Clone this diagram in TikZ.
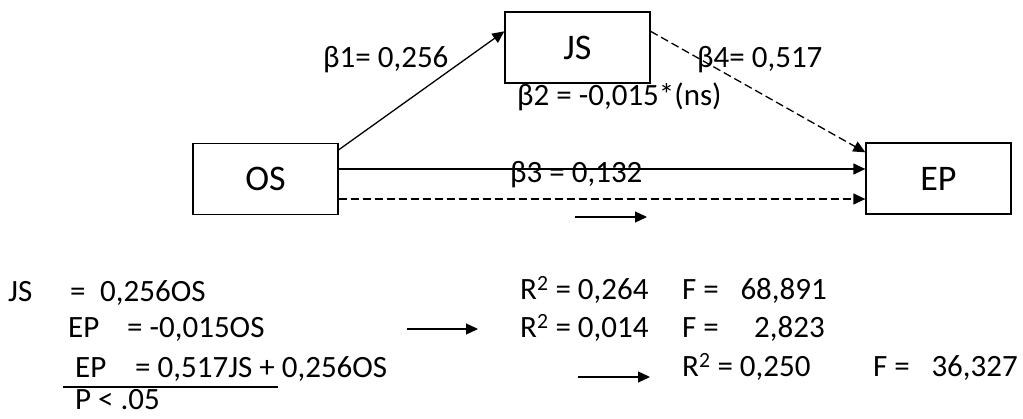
\documentclass[tikz,border=0pt]{standalone}
\usepackage{fontspec}
\setmainfont{Carlito}
\usetikzlibrary{arrows.meta,calc}
\begin{document}
\begin{tikzpicture}[x=1pt,y=-1pt,
  every node/.style={font=\fontsize{31}{37}\selectfont},
  varbox/.style={draw,line width=1.3pt,minimum width=145pt,minimum height=71pt,inner sep=0pt,
    font=\fontsize{36}{43}\selectfont},
  link/.style={line width=1.3pt,-{Triangle[length=12pt,width=11pt]}},
  dashlink/.style={link,dash pattern=on 8pt off 4pt},
  txt/.style={anchor=base west,inner sep=0pt}]
\useasboundingbox (0,0) rectangle (1023,419);
% variables
\node[varbox] (js) at (577.5,47.5) {JS};
\node[varbox] (os) at (265.5,179) {OS};
\node[varbox] (ep) at (938.5,178.5) {EP};
% paths
\draw[link] ($(os.north east)+(0,7)$) -- ($(js.north west)+(0,20)$);
\draw[dashlink] ($(js.north east)+(0,20)$) -- ($(ep.north west)+(0,10)$);
\draw[link] ($(os.east)+(0,-10)$) -- ($(ep.west)+(0,-9.5)$);
\draw[dashlink] ($(os.east)+(0,20)$) -- ($(ep.west)+(0,20.5)$);
\coordinate (s1) at (575,217);
\coordinate (s2) at (647,217);
\draw[link] (s1) -- (s2);
% coefficients
\node[txt] (b1) at (323,68) {β1= 0,256};
\node[txt] (b4) at (697,68) {β4= 0,517};
\node[txt] (b2) at (517,106) {β2 = -0,015*(ns)};
\node[txt] (b3) at (510,183) {β3 = 0,132};
% equations
\node[txt] (e1a) at (8,302) {JS};
\node[txt] (e1b) at (70,302) {=};
\node[txt] (e1c) at (100,302) {0,256OS};
\node[txt] (e2a) at (68,338) {EP};
\node[txt] (e2b) at (127,338) {= -0,015OS};
\node[txt] (e3a) at (75,378) {EP};
\node[txt] (e3b) at (135,378) {= 0,517JS + 0,256OS};
\node[txt] (e4) at (75,410) {P < .05};
\coordinate (u1) at (63,387);
\coordinate (u2) at (278,387);
\draw[line width=1.3pt] (u1) -- (u2);
\coordinate (a1) at (407,329);
\coordinate (a2) at (478,329);
\draw[link] (a1) -- (a2);
\coordinate (c1) at (578,377);
\coordinate (c2) at (650,377);
\draw[link] (c1) -- (c2);
% fit statistics
\node[txt] (r1) at (520,300) {R\textsuperscript{2} = 0,264};
\node[txt] (f1) at (682,300) {F =};
\node[txt,anchor=base east] (v1) at (827,300) {68,891};
\node[txt] (r2) at (520,338) {R\textsuperscript{2} = 0,014};
\node[txt] (f2) at (682,338) {F =};
\node[txt,anchor=base east] (v2) at (825,338) {2,823};
\node[txt] (r3) at (682,377) {R\textsuperscript{2} = 0,250};
\node[txt] (f3) at (873,377) {F =};
\node[txt,anchor=base east] (v3) at (1018,377) {36,327};
\end{tikzpicture}
\end{document}
